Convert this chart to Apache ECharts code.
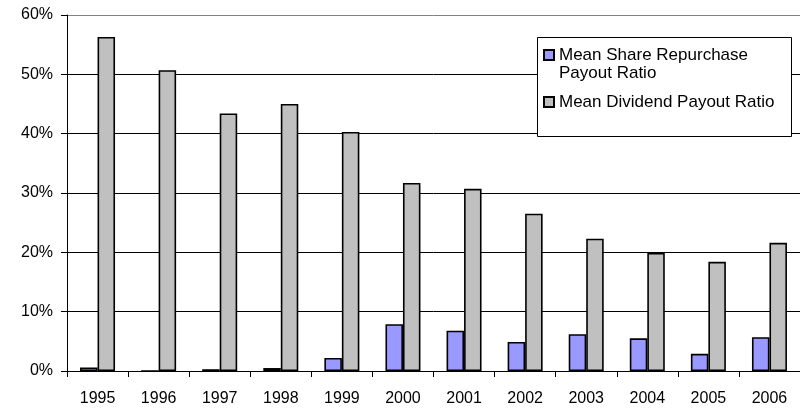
<!DOCTYPE html>
<html>
<head>
<meta charset="utf-8">
<script src="https://cdn.jsdelivr.net/npm/echarts@6/dist/echarts.min.js"></script>
<style>
html,body{margin:0;padding:0;background:#fff;}
#chart{width:800px;height:411px;}
</style>
</head>
<body>
<div id="chart"></div>
<script>
const years = ['1995','1996','1997','1998','1999','2000','2001','2002','2003','2004','2005','2006'];
const repurchaseName = 'Mean Share Repurchase Payout Ratio';
const dividendName = 'Mean Dividend Payout Ratio';
const repurchase = [0.6, 0, 0.3, 0.5, 2.2, 7.9, 6.8, 4.9, 6.2, 5.5, 2.9, 5.7];
const dividend = [56.3, 50.7, 43.4, 45.0, 40.3, 31.7, 30.7, 26.5, 22.3, 19.9, 18.4, 21.6];
const yTicks = [0, 10, 20, 30, 40, 50, 60];

const chart = echarts.init(document.getElementById('chart'));
const font = 'Liberation Sans, Arial, sans-serif';
chart.setOption({
  animation: false,
  backgroundColor: '#fff',
  grid: { left: 67, top: 15, width: 740, height: 356, containLabel: false },
  graphic: [{
    type: 'rect', left: 537, top: 37, z: 10,
    shape: { width: 254, height: 99 },
    style: { fill: '#fff', stroke: '#000', lineWidth: 1 }
  }],
  legend: {
    orient: 'vertical',
    left: 543, top: 28, z: 20,
    padding: 0,
    itemWidth: 10, itemHeight: 10, itemGap: 11,
    icon: 'rect',
    formatter: function (name) {
      return name === repurchaseName ? '\nMean Share Repurchase\nPayout Ratio' : name;
    },
    textStyle: { fontFamily: font, fontSize: 17, color: '#000', lineHeight: 18 },
    data: [repurchaseName, dividendName]
  },
  xAxis: {
    type: 'category',
    data: years,
    axisLine: { lineStyle: { color: '#000', width: 1 } },
    axisTick: { show: true, length: 6, lineStyle: { color: '#000' } },
    axisLabel: { fontFamily: font, fontSize: 16, color: '#000', margin: 20 }
  },
  yAxis: {
    type: 'value',
    min: yTicks[0], max: yTicks[yTicks.length - 1], interval: 10,
    axisLine: { show: true, lineStyle: { color: '#000', width: 1 } },
    axisTick: { show: true, length: 6, lineStyle: { color: '#000' } },
    axisLabel: { fontFamily: font, fontSize: 16, color: '#000', margin: 14, formatter: '{value}%' },
    splitLine: { show: true, lineStyle: { color: ['#000','#000','#000','#000','#000','#000','#808080'], width: 1 } }
  },
  series: [
    {
      name: repurchaseName, type: 'bar', data: repurchase,
      barWidth: 17.5, barGap: '0%',
      itemStyle: { color: '#9999FF', borderColor: '#000', borderWidth: 1.6 }
    },
    {
      name: dividendName, type: 'bar', data: dividend,
      barWidth: 17.5, barGap: '0%',
      itemStyle: { color: '#C0C0C0', borderColor: '#000', borderWidth: 1.6 }
    }
  ]
});
</script>
</body>
</html>
